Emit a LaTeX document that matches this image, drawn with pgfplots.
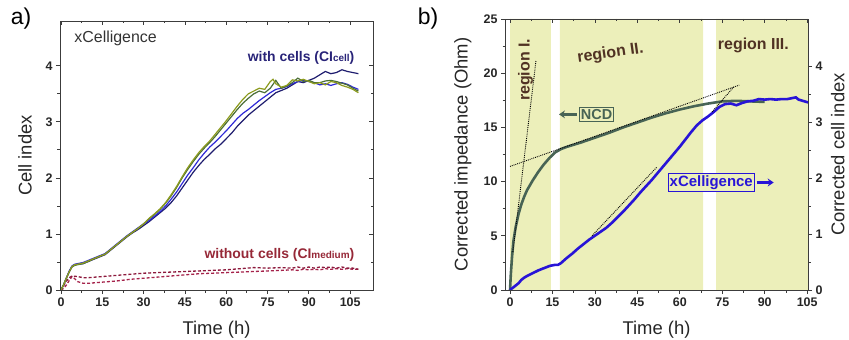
\documentclass[border=0pt]{standalone}
\usepackage{fontspec}
\setmainfont{Liberation Sans}
\usepackage{pgfplots}
\pgfplotsset{compat=1.18}
\usetikzlibrary{arrows.meta}
\definecolor{framec}{RGB}{60,60,60}
\definecolor{regionc}{RGB}{236,239,186}
\definecolor{navyc}{RGB}{30,28,110}
\definecolor{bluec}{RGB}{45,40,215}
\definecolor{olivec}{RGB}{140,155,30}
\definecolor{dgreenc}{RGB}{75,110,55}
\definecolor{redA}{RGB}{140,25,60}
\definecolor{redB}{RGB}{165,35,75}
\definecolor{labnavy}{RGB}{40,35,120}
\definecolor{labred}{RGB}{150,40,55}
\definecolor{ncdc}{RGB}{72,100,85}
\definecolor{xcelc}{RGB}{40,20,215}
\definecolor{brownc}{RGB}{80,50,35}
\pgfplotsset{
  base/.style={scale only axis,
    axis line style={color=framec, line width=0.9bp},
    major tick length=4bp, minor tick length=2.5bp,
    every tick/.style={color=framec, line width=0.8bp},
    tick label style={font=\fontsize{12.5}{14}\selectfont\bfseries, color=black!85},
    /pgf/number format/assume math mode=true,
    label style={font=\fontsize{18.5}{20}\selectfont, color=black!85}},
}
\begin{document}
\begin{tikzpicture}
\useasboundingbox (0bp,0bp) rectangle (849bp,340bp);
\node[font=\fontsize{23}{25}\selectfont] at (21bp,321bp) {a)};
\node[font=\fontsize{23}{25}\selectfont] at (428bp,321bp) {b)};
% ---------------- panel a
\begin{axis}[base, at={(60bp,50bp)}, anchor=south west, width=313bp, height=269bp,
  xmin=-0.36, xmax=113.3, ymin=0, ymax=4.8,
  xtick={0,15,...,105}, ytick={0,1,2,3,4}, minor x tick num=1, minor y tick num=1,
  xtick pos=left, ytick pos=left, tick align=outside,
  xlabel={Time (h)}, ylabel={Cell index},
  xlabel style={at={(axis description cs:0.5,-0.149)}, anchor=center},
  ylabel style={at={(axis description cs:-0.112,0.5)}, anchor=center}]
\addplot[redB, densely dashed, line width=1.3bp] coordinates {
(0,0) (1,0.03) (2,0.09) (3,0.17) (4,0.24) (5,0.2) (6,0.15) (8,0.12) (10,0.12) (15,0.14) (20,0.16) (25,0.19) (30,0.21) (35,0.23) (40,0.25) (45,0.27) (50,0.29) (55,0.30) (60,0.31) (65,0.32) (70,0.33) (75,0.34) (80,0.35) (84,0.36) (86,0.35) (88,0.37) (90,0.36) (92,0.37) (94,0.36) (96,0.38) (98,0.37) (100,0.38) (102,0.37) (104,0.38) (106,0.37) (108,0.37)};
\addplot[redA, densely dashed, line width=1.3bp] coordinates {
(0,0) (1,0.08) (2,0.16) (3,0.22) (4,0.25) (6,0.24) (8,0.22) (10,0.22) (15,0.24) (20,0.26) (25,0.28) (30,0.30) (35,0.31) (40,0.32) (45,0.33) (50,0.34) (55,0.35) (60,0.36) (65,0.38) (70,0.40) (75,0.39) (80,0.40) (84,0.39) (86,0.41) (88,0.39) (90,0.41) (92,0.39) (94,0.41) (96,0.40) (98,0.41) (100,0.39) (102,0.41) (104,0.39) (106,0.39) (108,0.37)};
\addplot[navyc, line width=1.2bp] coordinates {
(0,0) (1,0.1) (2,0.22) (3,0.33) (4,0.42) (5,0.45) (6,0.46) (8,0.47) (10,0.51) (12,0.55) (14,0.59) (16,0.63) (18,0.71) (20,0.79) (22,0.87) (24,0.95) (26,1.02) (28,1.08) (30,1.15) (32,1.22) (34,1.3) (36,1.38) (38,1.46) (40,1.56) (42,1.68) (44,1.82) (46,1.96) (48,2.1) (50,2.22) (52,2.33) (54,2.42) (56,2.52) (58,2.6) (60,2.7) (62,2.8) (64,2.92) (66,3.02) (68,3.12) (70,3.2) (72,3.28) (74,3.36) (76,3.44) (78,3.52) (80,3.56) (82,3.6) (84,3.66) (86,3.72) (88,3.7) (90,3.74) (92,3.78) (94,3.84) (96,3.9) (98,3.86) (100,3.88) (102,3.93) (104,3.9) (106,3.88) (108,3.86)};
\addplot[bluec, line width=1.2bp] coordinates {
(0,0) (1,0.1) (2,0.22) (3,0.34) (4,0.43) (5,0.46) (6,0.47) (8,0.49) (10,0.53) (12,0.57) (14,0.61) (16,0.65) (18,0.73) (20,0.81) (22,0.89) (24,0.97) (26,1.04) (28,1.11) (30,1.18) (32,1.24) (34,1.32) (36,1.4) (38,1.5) (40,1.62) (42,1.75) (44,1.9) (46,2.05) (48,2.18) (50,2.32) (52,2.44) (54,2.55) (56,2.64) (58,2.74) (60,2.84) (62,2.95) (64,3.06) (66,3.15) (68,3.22) (70,3.3) (72,3.38) (74,3.45) (76,3.52) (78,3.58) (80,3.6) (82,3.63) (84,3.68) (86,3.72) (88,3.74) (90,3.72) (92,3.7) (94,3.66) (96,3.68) (98,3.65) (100,3.68) (102,3.7) (104,3.67) (106,3.62) (108,3.58)};
\addplot[dgreenc, line width=1.2bp] coordinates {
(0,0) (1,0.1) (2,0.21) (3,0.32) (4,0.41) (5,0.44) (6,0.45) (8,0.47) (10,0.51) (12,0.56) (14,0.6) (16,0.64) (18,0.72) (20,0.8) (22,0.88) (24,0.96) (26,1.03) (28,1.1) (30,1.18) (32,1.27) (34,1.35) (36,1.44) (38,1.55) (40,1.68) (42,1.83) (44,2.0) (46,2.15) (48,2.29) (50,2.42) (52,2.53) (54,2.63) (56,2.74) (58,2.86) (60,2.98) (62,3.1) (64,3.22) (66,3.33) (68,3.42) (70,3.5) (72,3.55) (74,3.52) (76,3.6) (78,3.74) (80,3.6) (82,3.64) (84,3.7) (86,3.78) (88,3.72) (90,3.74) (92,3.7) (94,3.7) (96,3.73) (98,3.74) (100,3.72) (102,3.69) (104,3.66) (106,3.6) (108,3.55)};
\addplot[olivec, line width=1.2bp] coordinates {
(0,0) (1,0.1) (2,0.22) (3,0.33) (4,0.42) (5,0.45) (6,0.46) (8,0.48) (10,0.52) (12,0.56) (14,0.6) (16,0.64) (18,0.72) (20,0.8) (22,0.88) (24,0.96) (26,1.03) (28,1.1) (30,1.18) (32,1.28) (34,1.36) (36,1.45) (38,1.56) (40,1.7) (42,1.85) (44,2.02) (46,2.18) (48,2.32) (50,2.45) (52,2.56) (54,2.66) (56,2.78) (58,2.9) (60,3.02) (62,3.15) (64,3.28) (66,3.4) (68,3.5) (70,3.55) (72,3.6) (74,3.58) (76,3.72) (77,3.76) (78,3.68) (80,3.62) (82,3.65) (84,3.75) (86,3.73) (88,3.76) (90,3.72) (92,3.68) (94,3.7) (96,3.66) (98,3.72) (100,3.7) (102,3.65) (104,3.62) (106,3.58) (108,3.52)};
\node[anchor=west, font=\fontsize{16}{18}\selectfont, color=black!80] at (axis cs:3.6,4.49) {xCelligence};
\node[anchor=east, font=\fontsize{14}{16}\selectfont\bfseries, color=labnavy] at (axis cs:107.8,4.14) {with cells (CI{\fontsize{10}{12}\selectfont cell})};
\node[anchor=east, font=\fontsize{14}{16}\selectfont\bfseries, color=labred] at (axis cs:107.8,0.62) {without cells (CI{\fontsize{10}{12}\selectfont medium})};
\end{axis}
\begin{axis}[base, at={(60bp,50bp)}, anchor=south west, width=313bp, height=269bp,
  xmin=-0.36, xmax=113.3, ymin=0, ymax=4.8,
  xtick={0,15,...,105}, ytick={0,1,2,3,4}, minor x tick num=1, minor y tick num=1,
  xtick pos=right, ytick pos=right, tick align=inside,
  xticklabels={}, yticklabels={}]
\end{axis}
% ---------------- panel b (impedance)
\begin{axis}[base, at={(505bp,50bp)}, anchor=south west, width=303bp, height=271bp,
  xmin=-1.77, xmax=105.3, ymin=0, ymax=25,
  xtick={0,15,...,105}, ytick={0,5,...,25}, minor x tick num=1, minor y tick num=1,
  xtick pos=left, ytick pos=left, tick align=outside,
  axis on top,
  xlabel={Time (h)}, ylabel={Corrected impedance (Ohm)},
  xlabel style={at={(axis description cs:0.5,-0.148)}, anchor=center},
  ylabel style={at={(axis description cs:-0.139,0.5)}, anchor=center}]
\addplot[fill=regionc, draw=none] coordinates {(0,0) (14.4,0) (14.4,25) (0,25) (0,0)};
\addplot[fill=regionc, draw=none] coordinates {(17.6,0) (68.2,0) (68.2,25) (17.6,25) (17.6,0)};
\addplot[fill=regionc, draw=none] coordinates {(72.8,0) (105.3,0) (105.3,25) (72.8,25) (72.8,0)};
\addplot[ncdc, line width=2.6bp] coordinates {
(0,0) (0.3,1.5) (0.7,3.0) (1.2,4.5) (2,5.8) (3,7.0) (4,7.9) (5,8.6) (6,9.2) (8,10.1) (10,10.9) (12,11.6) (14,12.2) (16,12.7) (18,13.0) (20,13.2) (25,13.6) (30,14.05) (35,14.5) (40,15.0) (45,15.45) (50,15.9) (55,16.3) (60,16.65) (65,16.95) (70,17.2) (75,17.4) (80,17.45) (85,17.4) (90,17.35)};
\addplot[black, densely dotted, line width=0.9bp] coordinates {(1.0,3.5) (9.2,21.2)};
\addplot[black, densely dotted, line width=0.9bp] coordinates {(0,11.4) (81,18.9)};
\node[rotate=90, font=\fontsize{16}{18}\selectfont\bfseries, color=brownc] at (axis cs:5.5,20.3) {region I.};
\node[rotate=8, font=\fontsize{16}{18}\selectfont\bfseries, color=brownc] at (axis cs:35.5,21.8) {region II.};
\node[font=\fontsize{16}{18}\selectfont\bfseries, color=brownc] at (axis cs:86,22.6) {region III.};
\node[draw=ncdc, fill=regionc, line width=0.9bp, inner xsep=1.5bp, inner ysep=2bp, font=\fontsize{14.5}{16}\selectfont\bfseries, text=ncdc] (ncd) at (axis cs:30.6,16.2) {NCD};
\draw[ncdc, line width=3bp, -{Stealth[length=6bp,width=8bp]}] ([xshift=-2bp]ncd.west) -- ([xshift=-20bp]ncd.west);
\end{axis}
% ---------------- panel b (cell index, right axis)
\begin{axis}[base, at={(505bp,50bp)}, anchor=south west, width=303bp, height=271bp,
  xmin=-1.77, xmax=105.3, ymin=0, ymax=4.84,
  axis x line=none, axis y line*=right,
  ytick={0,1,2,3,4}, minor y tick num=1, tick align=outside,
  ylabel={Corrected cell index},
  ylabel style={at={(axis description cs:1.098,0.5)}, anchor=center}]
\addplot[xcelc, line width=2.6bp] coordinates {
(0,0) (1,0.04) (2,0.08) (3,0.12) (4,0.18) (5,0.22) (6,0.25) (8,0.3) (10,0.35) (12,0.39) (14,0.43) (16,0.45) (17,0.45) (18,0.48) (20,0.57) (22,0.65) (24,0.74) (26,0.82) (28,0.9) (30,0.97) (32,1.04) (34,1.11) (36,1.2) (38,1.3) (40,1.4) (42,1.51) (44,1.62) (46,1.74) (48,1.85) (50,1.96) (52,2.08) (54,2.2) (56,2.32) (58,2.44) (60,2.56) (62,2.69) (64,2.82) (66,2.94) (68,3.03) (70,3.1) (72,3.18) (74,3.27) (76,3.32) (78,3.33) (80,3.3) (82,3.34) (84,3.37) (86,3.38) (88,3.41) (90,3.4) (92,3.41) (94,3.4) (96,3.41) (98,3.41) (100,3.43) (101,3.44) (102,3.4) (104,3.37) (105.3,3.35)};
\addplot[black, densely dotted, line width=0.9bp] coordinates {(29,0.97) (52,2.2)};
\addplot[black, densely dotted, line width=0.9bp] coordinates {(71.4,3.18) (79.1,3.63)};
\node[draw=xcelc, fill=regionc, line width=0.9bp, inner xsep=1.5bp, inner ysep=2bp, font=\fontsize{15}{17}\selectfont\bfseries, text=xcelc] (xc) at (axis cs:71.1,1.92) {xCelligence};
\draw[xcelc, line width=3bp, -{Stealth[length=6bp,width=8bp]}] ([xshift=2bp]xc.east) -- ([xshift=19bp]xc.east);
\end{axis}
\begin{axis}[base, at={(505bp,50bp)}, anchor=south west, width=303bp, height=271bp,
  xmin=-1.77, xmax=105.3, ymin=0, ymax=25,
  axis y line=none, axis x line*=top,
  xtick={0,15,...,105}, minor x tick num=1, tick align=inside, xticklabels={}]
\end{axis}
\end{tikzpicture}
\end{document}
